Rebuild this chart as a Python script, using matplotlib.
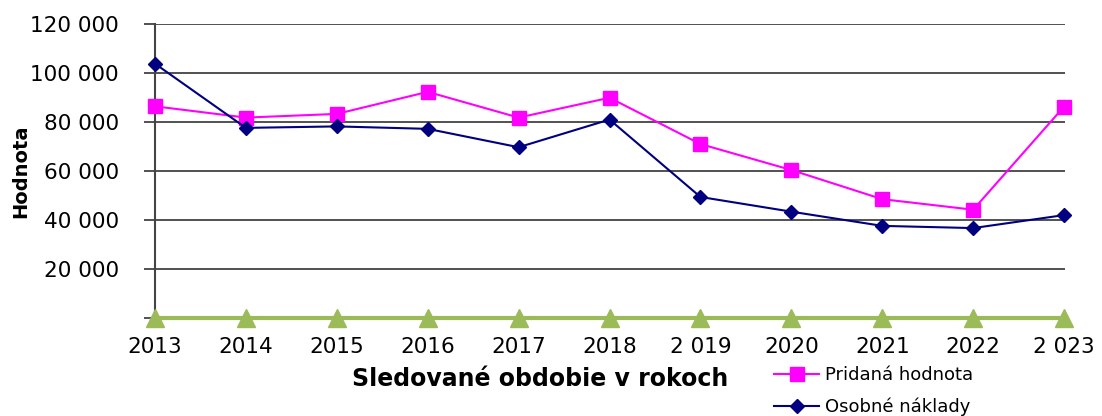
import matplotlib
matplotlib.use("Agg")
import matplotlib.pyplot as plt
from matplotlib.ticker import FuncFormatter

plt.rcParams['font.family'] = ['DejaVu Sans']

years = ['2013', '2014', '2015', '2016', '2017', '2018', '2 019', '2020', '2021', '2022', '2 023']
pridana_hodnota = [86400, 81800, 83300, 92300, 81800, 89900, 71000, 60400, 48500, 44200, 86300]
osobne_naklady = [103800, 77600, 78200, 77200, 69700, 81000, 49400, 43400, 37600, 36700, 42000]
treti_rad = [0, 0, 0, 0, 0, 0, 0, 0, 0, 0, 0]
y_ticks = [0, 20000, 40000, 60000, 80000, 100000, 120000]

fig = plt.figure(figsize=(11.02, 4.16), dpi=100)
ax = fig.add_axes([155 / 1102, 1 - 318 / 416, 910 / 1102, 294 / 416])

x = list(range(len(years)))

# grid lines first so the series sit on top
ax.set_yticks(y_ticks)
ax.yaxis.grid(True, color='#333333', linewidth=1.2)
ax.set_axisbelow(True)

ax.plot(x, treti_rad, color='#9bbb59', linewidth=3, marker='^', markersize=13,
        clip_on=False, zorder=3, label='_nolegend_')
ax.plot(x, pridana_hodnota, color='#ff00ff', linewidth=1.5, marker='s', markersize=10,
        clip_on=False, zorder=4, label='Pridaná hodnota')
ax.plot(x, osobne_naklady, color='#000080', linewidth=1.5, marker='D', markersize=7,
        clip_on=False, zorder=5, label='Osobné náklady')

ax.set_xlim(0, len(years) - 1 + 0.01)
ax.set_ylim(0, 120000)
ax.set_xticks(x)
ax.set_xticklabels(years)

fmt = lambda v, pos: '' if v == 0 else f'{int(v):,}'.replace(',', ' ')
ax.yaxis.set_major_formatter(FuncFormatter(fmt))

for side in ['top', 'right', 'bottom']:
    ax.spines[side].set_visible(False)
ax.spines['left'].set_color('#444444')
ax.spines['left'].set_linewidth(1.5)

ax.tick_params(axis='y', length=8, width=1.2, color='#333333', pad=18, labelsize=15.5)
ax.tick_params(axis='x', length=0, pad=14, labelsize=15.5)

ax.set_ylabel('Hodnota', fontsize=14, fontweight='bold')
ax.yaxis.set_label_coords(-0.137, 0.5)
fig.text(540 / 1102, 1 - 379 / 416, 'Sledované obdobie v rokoch', fontsize=17,
         fontweight='bold', ha='center', va='center')

fig.legend(loc='upper left', bbox_to_anchor=(774 / 1102, 1 - 366 / 416), frameon=False,
           fontsize=13, handlelength=2.5, handletextpad=0.3, labelspacing=0.75,
           borderaxespad=0, borderpad=0)

fig.savefig('out.png', dpi=100)
